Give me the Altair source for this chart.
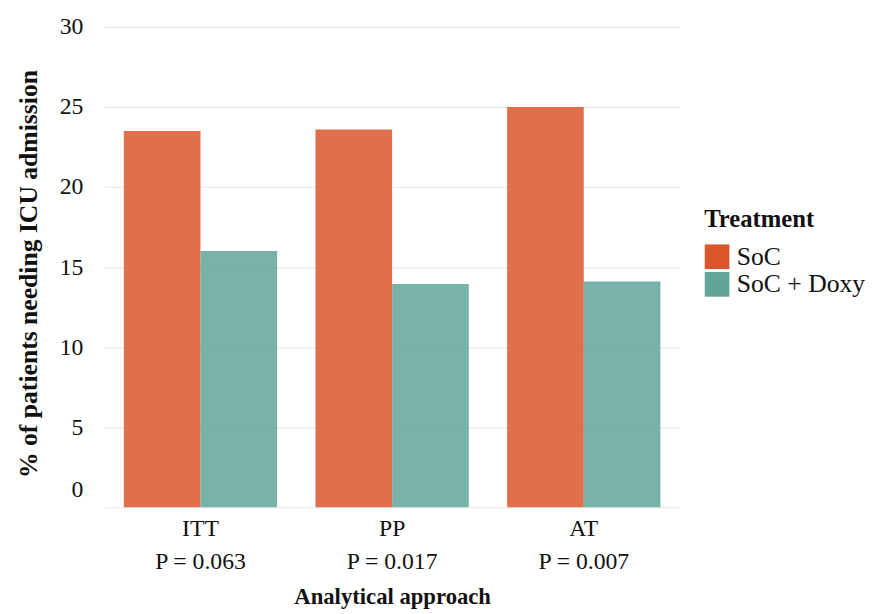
import altair as alt
import pandas as pd

approaches = ["ITT", "PP", "AT"]
p_labels = ["P = 0.063", "P = 0.017", "P = 0.007"]
treatments = ["SoC", "SoC + Doxy"]
soc_values = [23.5, 23.6, 25.0]
doxy_values = [16.0, 13.95, 14.1]
colors = ["#DA572C", "#62A499"]

rows = []
for a, s, d in zip(approaches, soc_values, doxy_values):
    rows.append({"approach": a, "treatment": treatments[0], "pct": s})
    rows.append({"approach": a, "treatment": treatments[1], "pct": d})
df = pd.DataFrame(rows)

label_expr = ""
for a, p in zip(approaches, p_labels):
    label_expr += f"datum.value == '{a}' ? ['{a}', '{p}'] : "
label_expr += "datum.value"

FONT = "Liberation Serif"

chart = alt.Chart(df).mark_bar(opacity=0.85).encode(
    x=alt.X("approach:N", sort=approaches,
            scale=alt.Scale(paddingInner=0.2, paddingOuter=0.1),
            axis=alt.Axis(title="Analytical approach", labelAngle=0, labelExpr=label_expr,
                          domain=False, ticks=False, labelPadding=10,
                          labelFontSize=24, labelLineHeight=33, titleFontSize=23,
                          titlePadding=13)),
    xOffset=alt.XOffset("treatment:N", sort=treatments),
    y=alt.Y("pct:Q", scale=alt.Scale(domain=[0, 30]),
            axis=alt.Axis(title="% of patients needing ICU admission", values=[0, 5, 10, 15, 20, 25, 30],
                          domain=False, ticks=False, labelPadding=22, labelFontSize=24,
                          titleFontSize=26, titlePadding=18, titleY=250,
                          labelOffset={"condition": {"test": "datum.value === 0", "value": -18}, "value": 0})),
    color=alt.Color("treatment:N", sort=treatments,
                    scale=alt.Scale(domain=treatments, range=colors),
                    legend=alt.Legend(title="Treatment", orient="none", legendX=608, legendY=183,
                                      symbolType="square", symbolSize=625, symbolOpacity=1,
                                      symbolStrokeWidth=0, rowPadding=2, titleFontSize=25,
                                      labelFontSize=26, titlePadding=12, labelOffset=7)),
).properties(width=583, height=487, padding={"left": 8, "top": 3, "right": 0, "bottom": 0}).configure(
    font=FONT
).configure_axis(
    labelFont=FONT, titleFont=FONT, labelColor="#111", titleColor="#111",
    gridColor="#E8E8E8", gridWidth=1.2, titleFontWeight="bold"
).configure_legend(
    labelFont=FONT, titleFont=FONT, labelColor="#111", titleColor="#111", titleFontWeight="bold"
).configure_view(stroke=None)

chart.save("out.html", embed_options={"renderer": "svg", "actions": False})
